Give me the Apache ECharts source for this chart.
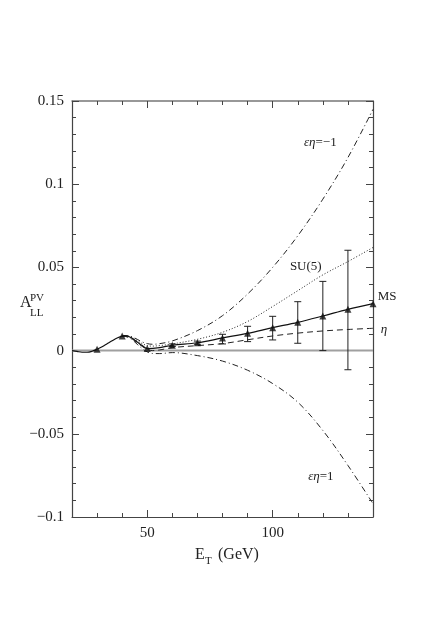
<!DOCTYPE html>
<html><head><meta charset="utf-8">
<script src="https://cdn.jsdelivr.net/npm/echarts@6/dist/echarts.min.js"></script>
<style>html,body{margin:0;padding:0;background:#fff}#c{width:436px;height:622px}</style>
</head><body><div id="c"></div><script>
// ---- data ----
const xLabelTicks = [50, 100];
const zeroLineX = [20, 140];
const zeroLineY = [0, 0];

// MS (solid) curve
const msX = [20,22,24,26,28,30,32,34,36,38,40,41,42,44,46,48,50,55,60,70,80,90,100,110,120,130,140];
const msY = [0,-0.0005,-0.001,-0.001,-0.0004,0.0008,0.0023,0.0041,0.0059,0.0076,0.0087,0.009,0.0088,0.0074,0.0052,0.003,0.0012,0.0018,0.0032,0.0047,0.0076,0.0104,0.0138,0.0170,0.0208,0.0248,0.0282];

// triangle markers (MS points)
const triX = [30,40,50,60,70,80,90,100,110,120,130,140];
const triY = [0.0008,0.0087,0.0012,0.0032,0.0047,0.0076,0.0104,0.0138,0.0170,0.0208,0.0248,0.0282];

// error bars
const errX  = [60,70,80,90,100,110,120,130];
const errLo = [0.0025,0.0038,0.004,0.0054,0.0064,0.0044,0.0,-0.0115];
const errHi = [0.004,0.0057,0.0098,0.0146,0.0206,0.0294,0.0416,0.0603];

// other model curves
const cX      = [40,42,44,46,48,50,52,55,60,70,80,90,100,110,120,130,140];
const upperY  = [0.0087,0.009,0.0082,0.0068,0.0052,0.0042,0.0038,0.0042,0.0058,0.012,0.021,0.034,0.050,0.069,0.091,0.116,0.145];   // εη=-1
const su5Y    = [0.0087,0.0088,0.0078,0.006,0.0042,0.003,0.0027,0.003,0.004,0.0068,0.011,0.0175,0.0265,0.036,0.0455,0.0535,0.062];   // SU(5)
const etaY    = [0.0087,0.0084,0.007,0.0048,0.0025,0.0008,0.0,0.0004,0.0018,0.003,0.0042,0.0065,0.0088,0.0105,0.0118,0.0127,0.0134]; // η
const lowerY  = [0.0087,0.0082,0.0065,0.0038,0.0012,-0.0008,-0.0017,-0.0018,-0.0012,-0.003,-0.0063,-0.0118,-0.0198,-0.031,-0.048,-0.069,-0.092]; // εη=1

// annotation positions in data coordinates
const notes = [
  {rich:'{g|εη}{n|=−1}', x:119, y:0.1248},
  {rich:'{n|SU(5)}', x:113.2, y:0.0504},
  {rich:'{n|MS}', x:145.6, y:0.0322},
  {rich:'{g|η}', x:144.4, y:0.0124},
  {rich:'{g|εη}{n|=1}', x:119.2, y:-0.0758}
];

// ---- chart ----
const FONT = '"Liberation Serif","DejaVu Serif",serif';
const AX = '#444';
const zip = (a,b) => a.map((v,i)=>[v,b[i]]);
const chart = echarts.init(document.getElementById('c'), null, {renderer:'canvas'});

const xBase = {type:'value', min:20, max:140, splitLine:{show:false}};
const yBase = {type:'value', min:-0.1, max:0.15, splitLine:{show:false}};
const fmtY = v => { const r = Math.round(v*100)/100; if (r===0) return '0'; return (r<0?'−':'') + String(Math.abs(r)); };

const lineS = (data, type, name) => ({
  type:'line', name, data, showSymbol:false, smooth:0.35, z:3,
  lineStyle:{color:'#222', width:1, type}, silent:true, animation:false
});

chart.setOption({
  animation:false,
  grid:{left:72, right:63, top:101, bottom:105},
  xAxis:[
    Object.assign({}, xBase, {position:'bottom', axisLine:{onZero:false, lineStyle:{color:AX, width:1.2}},
      axisTick:{inside:true, length:7, customValues:xLabelTicks, lineStyle:{color:AX}},
      axisLabel:{customValues:xLabelTicks, fontFamily:FONT, fontSize:15, color:'#222', margin:9}}),
    Object.assign({}, xBase, {position:'bottom', interval:10, axisLine:{show:false, onZero:false},
      axisTick:{inside:true, length:4, lineStyle:{color:AX}}, axisLabel:{show:false}}),
    Object.assign({}, xBase, {position:'top', axisLine:{onZero:false, lineStyle:{color:'#777', width:1.5}},
      axisTick:{inside:true, length:7, customValues:xLabelTicks, lineStyle:{color:AX}}, axisLabel:{show:false}}),
    Object.assign({}, xBase, {position:'top', interval:10, axisLine:{show:false, onZero:false},
      axisTick:{inside:true, length:4, lineStyle:{color:AX}}, axisLabel:{show:false}})
  ],
  yAxis:[
    Object.assign({}, yBase, {position:'left', interval:0.05, axisLine:{onZero:false, lineStyle:{color:AX, width:1.2}},
      axisTick:{inside:true, length:7, lineStyle:{color:AX}},
      axisLabel:{formatter:fmtY, fontFamily:FONT, fontSize:15, color:'#222', margin:8}}),
    Object.assign({}, yBase, {position:'left', interval:0.01, axisLine:{show:false, onZero:false},
      axisTick:{inside:true, length:4, lineStyle:{color:AX}}, axisLabel:{show:false}}),
    Object.assign({}, yBase, {position:'right', interval:0.05, axisLine:{onZero:false, lineStyle:{color:AX, width:1.2}},
      axisTick:{inside:true, length:7, lineStyle:{color:AX}}, axisLabel:{show:false}}),
    Object.assign({}, yBase, {position:'right', interval:0.01, axisLine:{show:false, onZero:false},
      axisTick:{inside:true, length:4, lineStyle:{color:AX}}, axisLabel:{show:false}})
  ],
  series:[
    {type:'line', data:zip(zeroLineX, zeroLineY), showSymbol:false, silent:true, z:1,
      lineStyle:{color:'#a0a0a0', width:2}},
    lineS(zip(cX, upperY), [6,3,1,3], 'εη=-1'),
    lineS(zip(cX, lowerY), [6,3,1,3], 'εη=1'),
    lineS(zip(cX, su5Y), [1,2], 'SU(5)'),
    lineS(zip(cX, etaY), [6,4], 'η'),
    Object.assign(lineS(zip(msX, msY), 'solid', 'MS'), {z:4, lineStyle:{color:'#111', width:1.2, type:'solid'}}),
    {type:'custom', silent:true, z:4, data: errX.map((x,i)=>[x, errLo[i], errHi[i]]),
      renderItem:(params, api) => {
        const x = api.value(0);
        const p1 = api.coord([x, api.value(1)]);
        const p2 = api.coord([x, api.value(2)]);
        const w = 3.5, st = {stroke:'#222', lineWidth:1};
        return {type:'group', children:[
          {type:'line', shape:{x1:p1[0], y1:p1[1], x2:p2[0], y2:p2[1]}, style:st},
          {type:'line', shape:{x1:p1[0]-w, y1:p1[1], x2:p1[0]+w, y2:p1[1]}, style:st},
          {type:'line', shape:{x1:p2[0]-w, y1:p2[1], x2:p2[0]+w, y2:p2[1]}, style:st}
        ]};
      }},
    {type:'scatter', silent:true, z:5, data: zip(triX, triY), symbol:'triangle', symbolSize:7,
      itemStyle:{color:'#111'}}
  ]
});

// annotations placed through the chart's own coordinate conversion
const rich = {
  g:{fontFamily:FONT, fontSize:13, fontStyle:'italic', fill:'#222'},
  n:{fontFamily:FONT, fontSize:13, fill:'#222'}
};
const graphics = notes.map(n => {
  const p = chart.convertToPixel({xAxisIndex:0, yAxisIndex:0}, [n.x, n.y]);
  return {type:'text', x:p[0], y:p[1], style:{text:n.rich, rich, align:'center', verticalAlign:'middle'}};
});
// axis titles
graphics.push(
  {type:'text', x:20, y:311, style:{text:'A', fontFamily:FONT, fontSize:16, fill:'#222', verticalAlign:'bottom'}},
  {type:'text', x:30, y:304, style:{text:'PV', fontFamily:FONT, fontSize:11, fill:'#222', verticalAlign:'bottom'}},
  {type:'text', x:30, y:319, style:{text:'LL', fontFamily:FONT, fontSize:11, fill:'#222', verticalAlign:'bottom'}},
  {type:'text', x:195, y:563, style:{text:'E', fontFamily:FONT, fontSize:16, fill:'#222', verticalAlign:'bottom'}},
  {type:'text', x:205, y:567, style:{text:'T', fontFamily:FONT, fontSize:11, fill:'#222', verticalAlign:'bottom'}},
  {type:'text', x:218, y:563, style:{text:'(GeV)', fontFamily:FONT, fontSize:16, fill:'#222', verticalAlign:'bottom'}}
);
chart.setOption({graphic:graphics});
</script></body></html>
